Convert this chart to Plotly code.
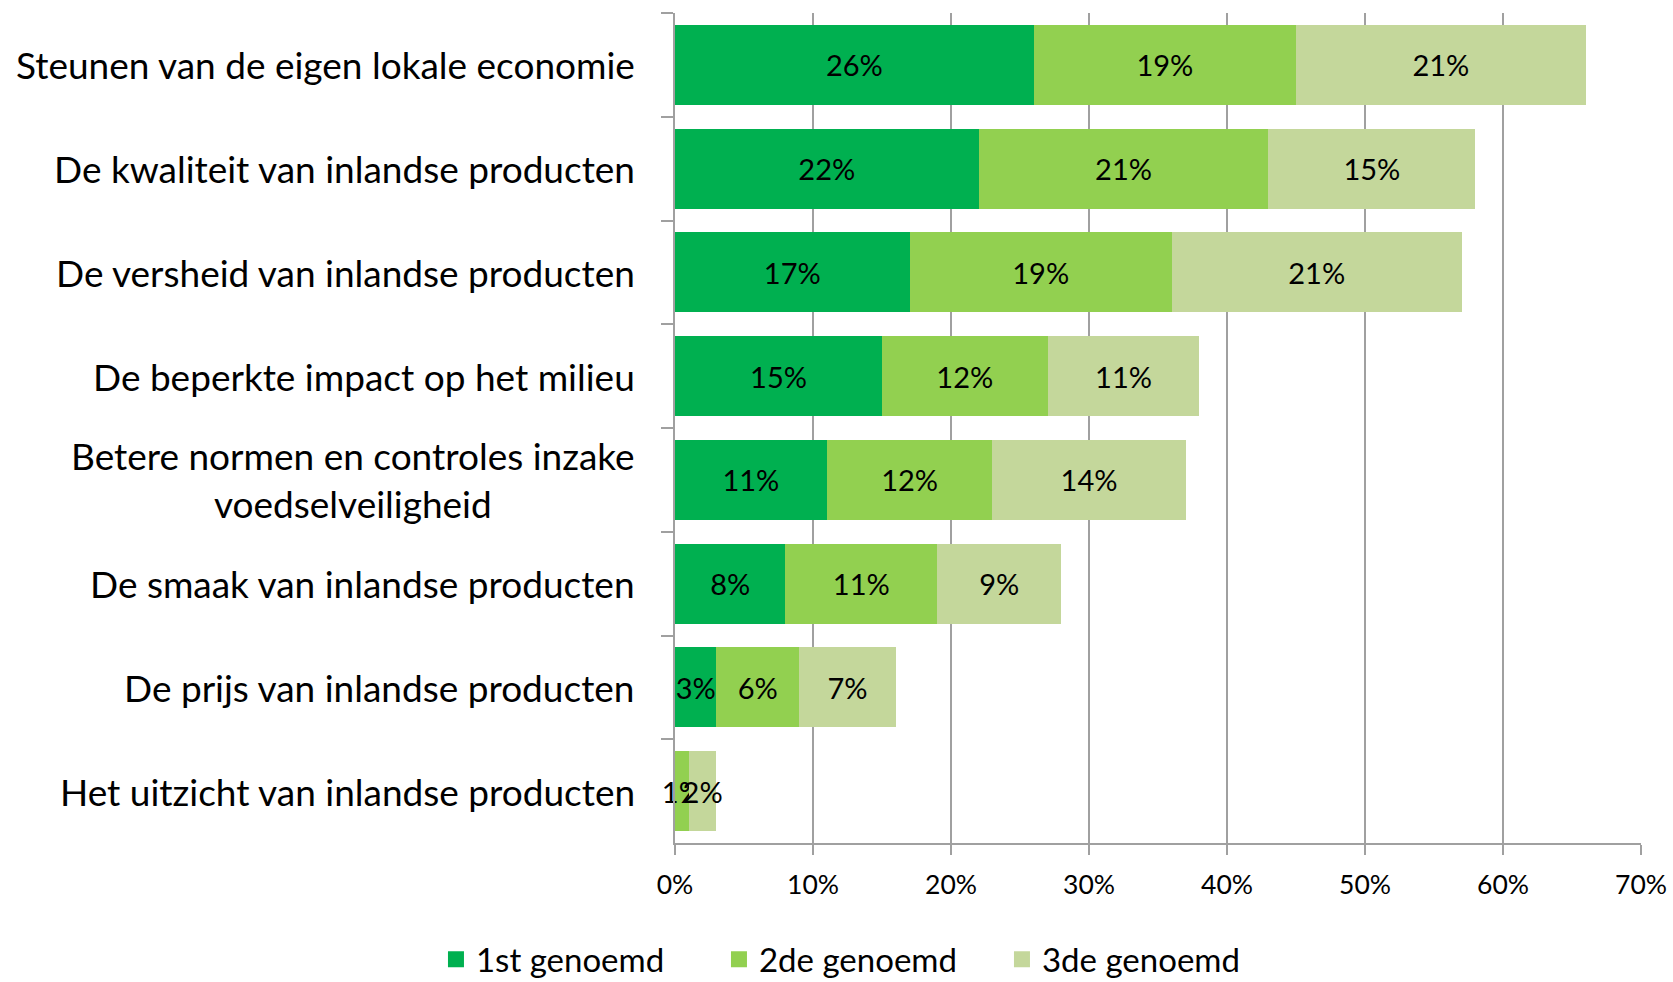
import plotly.graph_objects as go

categories = [
    "Steunen van de eigen lokale economie",
    "De kwaliteit van inlandse producten",
    "De versheid van inlandse producten",
    "De beperkte impact op het milieu",
    "Betere normen en controles inzake<br>voedselveiligheid",
    "De smaak van inlandse producten",
    "De prijs van inlandse producten",
    "Het uitzicht van inlandse producten",
]
first = [26, 22, 17, 15, 11, 8, 3, 0]
second = [19, 21, 19, 12, 12, 11, 6, 1]
third = [21, 15, 21, 11, 14, 9, 7, 2]
series_names = ["1st genoemd", "2de genoemd", "3de genoemd"]
colors = ["#00B050", "#92D050", "#C4D79B"]
x_ticks = [0, 10, 20, 30, 40, 50, 60, 70]

FONT = "Lato"
fig = go.Figure()
for name, vals, col in zip(series_names, [first, second, third], colors):
    fig.add_trace(go.Bar(
        y=categories, x=vals, name=name, orientation="h",
        marker=dict(color=col, line=dict(width=0)),
        text=[f"{v}%" if v else "" for v in vals],
        textposition="inside", insidetextanchor="middle", textangle=0,
        textfont=dict(family=FONT, size=29, color="black"),
        cliponaxis=False, showlegend=False,
        hoverinfo="x+y",
    ))
# legend entries with large square swatches
for name, col in zip(series_names, colors):
    fig.add_trace(go.Scatter(
        x=[None], y=[None], mode="markers", name=name,
        marker=dict(symbol="square", size=21, color=col),
        showlegend=True, hoverinfo="skip",
    ))

for c in categories:
    fig.add_annotation(
        xref="paper", x=0, xanchor="right", xshift=-38,
        yref="y", y=c, yanchor="middle", text=c, align="center",
        showarrow=False, font=dict(family=FONT, size=37, color="black"),
    )

fig.update_layout(
    width=1673, height=982,
    barmode="stack", bargap=0.23,
    plot_bgcolor="white", paper_bgcolor="white",
    margin=dict(l=675, r=32, t=13, b=139, autoexpand=False),
    font=dict(family=FONT, color="black"),
    uniformtext=dict(minsize=29, mode="show"),
    legend=dict(
        orientation="h", x=0.192, xanchor="center", y=-0.14, yanchor="middle",
        font=dict(family=FONT, size=33, color="black"), entrywidth=238,
        traceorder="normal", itemsizing="trace",
    ),
    showlegend=True,
)
fig.update_xaxes(
    range=[0, 70], tickvals=x_ticks, ticktext=[f"{t}%" for t in x_ticks],
    showgrid=True, gridcolor="#A0A0A0", gridwidth=2,
    showline=True, linecolor="#A0A0A0", linewidth=2,
    ticks="outside", ticklen=10, tickcolor="#A0A0A0", tickwidth=2,
    ticklabelstandoff=7,
    tickfont=dict(family=FONT, size=26.5, color="black"), zeroline=False,
)
fig.update_yaxes(
    autorange="reversed", showticklabels=False,
    showline=True, linecolor="#A0A0A0", linewidth=2,
    ticks="outside", tickson="boundaries", ticklen=12, tickcolor="#A0A0A0", tickwidth=2,
    showgrid=False,
)
fig.write_html(
    "out.html",
    config={"displayModeBar": False},
    post_script="document.body.style.margin='0px';document.body.style.overflow='hidden';",
)
